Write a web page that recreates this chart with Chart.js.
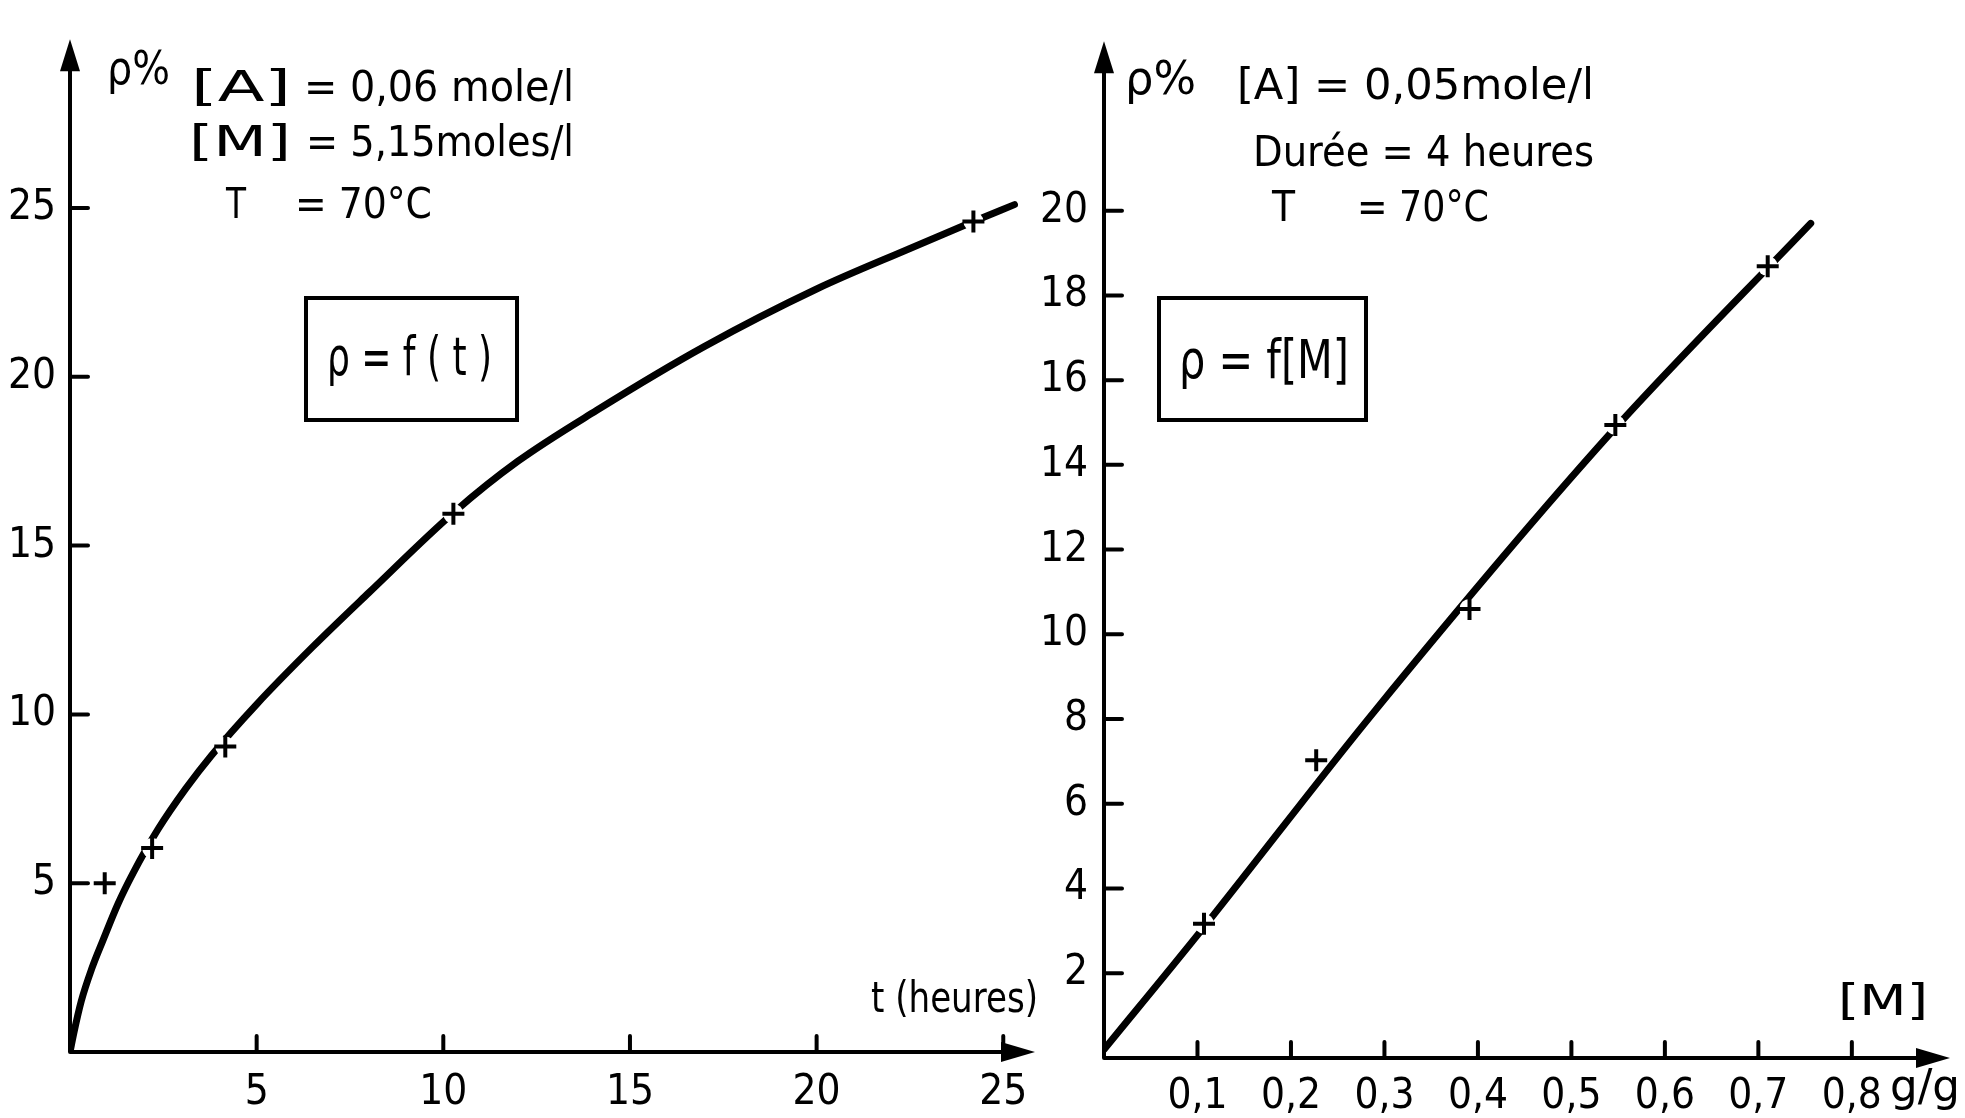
<!DOCTYPE html>
<html>
<head>
<meta charset="utf-8">
<script src="https://cdn.jsdelivr.net/npm/chart.js@4.4.0/dist/chart.umd.min.js"></script>
<style>
  html, body { margin: 0; padding: 0; background: #fff; }
  .panel { position: absolute; top: 0; height: 1118px; }
  #left { left: 0; width: 1050px; }
  #right { left: 1040px; width: 925px; }
</style>
</head>
<body>
<div class="panel" id="left"><canvas id="chartTime"></canvas></div>
<div class="panel" id="right"><canvas id="chartMono"></canvas></div>
<script>
// left graph : rho = f(t)
const timeHours = [0.93, 2.2, 4.16, 10.27, 24.2];
const rhoTime = [5.0, 6.04, 9.05, 15.94, 24.6];
const curveT = [0, 0.1, 0.3, 0.58, 0.88, 1.29, 1.69, 2.36, 3.1, 3.8, 5.0, 6.5, 8.0, 10.3, 12.0, 14.1, 17, 20, 22.5, 24.2, 25.3];
const curveRho = [0, 0.55, 1.5, 2.46, 3.3, 4.4, 5.3, 6.6, 7.8, 8.8, 10.3, 12.0, 13.6, 16.0, 17.5, 19.0, 20.9, 22.6, 23.8, 24.6, 25.1];
const timeTicks = [5, 10, 15, 20, 25];
const rhoTimeTicks = [5, 10, 15, 20, 25];

// right graph : rho = f[M]
const monomer = [0.107, 0.227, 0.391, 0.547, 0.710];
const rhoMonomer = [3.17, 7.03, 10.6, 14.94, 18.69];
const lineM = [0, 0.1, 0.29, 0.54, 0.756];
const lineRho = [0.2, 2.9, 8.2, 14.7, 19.7];
const monomerTicks = [0.1, 0.2, 0.3, 0.4, 0.5, 0.6, 0.7, 0.8];
const rhoMonomerTicks = [2, 4, 6, 8, 10, 12, 14, 16, 18, 20];

const FONT = "'Liberation Sans Narrow', 'DejaVu Sans Condensed', 'Liberation Sans', sans-serif";
const INK = '#000';

const toPoints = (xs, ys) => xs.map((x, i) => ({ x: x, y: ys[i] }));

const drawFitted = (ctx, text, x1, x2, cy, size) => {
  ctx.font = `${size}px ${FONT}`;
  ctx.textBaseline = 'middle';
  ctx.textAlign = 'left';
  const w = ctx.measureText(text).width;
  ctx.save();
  ctx.translate(x1, cy);
  ctx.scale((x2 - x1) / w, 1);
  ctx.fillText(text, 0, 0);
  ctx.restore();
};

// hand drawn look : axes with arrows, ticks pointing inside, notes and framed formula
const sketchAxes = {
  id: 'sketchAxes',
  afterDraw(chart, args, opts) {
    const ctx = chart.ctx;
    const area = chart.chartArea;
    const xs = chart.scales.x;
    const ys = chart.scales.y;
    const ox = opts.offsetX;
    const x0 = xs.getPixelForValue(0);
    const y0 = ys.getPixelForValue(0);
    ctx.save();
    ctx.strokeStyle = INK;
    ctx.fillStyle = INK;
    ctx.lineCap = 'round';
    ctx.lineWidth = 4;
    ctx.beginPath();
    ctx.moveTo(x0, y0);
    ctx.lineTo(x0, area.top + 20);
    ctx.moveTo(x0, y0);
    ctx.lineTo(area.right - 20, y0);
    ctx.stroke();
    // arrow heads
    ctx.beginPath();
    ctx.moveTo(x0, area.top);
    ctx.lineTo(x0 - 10, area.top + 32);
    ctx.lineTo(x0 + 10, area.top + 32);
    ctx.closePath();
    ctx.fill();
    ctx.beginPath();
    ctx.moveTo(area.right, y0);
    ctx.lineTo(area.right - 34, y0 - 10);
    ctx.lineTo(area.right - 34, y0 + 10);
    ctx.closePath();
    ctx.fill();
    // ticks
    ctx.beginPath();
    for (let t of ys.ticks) {
      const py = ys.getPixelForValue(t.value);
      ctx.moveTo(x0, py);
      ctx.lineTo(x0 + 18, py);
    }
    for (let t of xs.ticks) {
      const px = xs.getPixelForValue(t.value);
      ctx.moveTo(px, y0);
      ctx.lineTo(px, y0 - 16);
    }
    ctx.stroke();
    // texts
    for (let n of opts.notes) {
      drawFitted(ctx, n.text, n.x1 - ox, n.x2 - ox, n.y, n.size);
    }
    // framed formula
    const b = opts.box;
    ctx.lineWidth = 4;
    ctx.strokeRect(b.left - ox, b.top, b.right - b.left, b.bottom - b.top);
    drawFitted(ctx, b.text, b.tx1 - ox, b.tx2 - ox, b.ty, b.size);
    ctx.restore();
  }
};

const tickFont = { family: FONT, size: 42 };

const makeScale = (min, max, ticks, fit, padding, fmt) => ({
  type: 'linear',
  min: min,
  max: max,
  afterBuildTicks: s => { s.ticks = ticks.map(v => ({ value: v })); },
  afterFit: fit,
  grid: { display: false, drawTicks: false },
  border: { display: false },
  ticks: {
    padding: padding,
    color: INK,
    font: tickFont,
    maxRotation: 0,
    autoSkip: false,
    callback: fmt
  }
});

const makeDatasets = (lineXs, lineYs, markXs, markYs) => [
  {
    label: 'mesures',
    data: toPoints(markXs, markYs),
    showLine: false,
    pointStyle: 'cross',
    pointRadius: 11,
    pointBorderWidth: 4,
    pointBorderColor: INK,
    pointHoverRadius: 11
  },
  {
    label: 'coupure',
    data: toPoints(markXs, markYs),
    showLine: false,
    pointStyle: 'circle',
    pointRadius: 10,
    pointBorderWidth: 0,
    pointBackgroundColor: '#fff'
  },
  {
    label: 'courbe',
    data: toPoints(lineXs, lineYs),
    showLine: true,
    borderColor: INK,
    borderWidth: 7,
    borderCapStyle: 'round',
    cubicInterpolationMode: 'monotone',
    pointRadius: 0
  }
];

new Chart(document.getElementById('chartTime'), {
  type: 'scatter',
  data: { datasets: makeDatasets(curveT, curveRho, timeHours, rhoTime) },
  options: {
    responsive: true,
    maintainAspectRatio: false,
    animation: false,
    layout: { padding: { top: 12, right: 10, left: 0, bottom: 0 } },
    scales: {
      x: makeScale(0, 25.85, timeTicks, s => { s.height = 66; }, 16, v => v),
      y: makeScale(0, 30, rhoTimeTicks, s => { s.width = 70; }, 14, v => v)
    },
    plugins: {
      legend: { display: false },
      tooltip: { enabled: false },
      sketchAxes: {
        offsetX: 0,
        notes: [
          { text: 'ρ%', x1: 107, x2: 170, y: 72, size: 46 },
          { text: '[A]', x1: 191, x2: 291, y: 90, size: 42 },
          { text: '= 0,06 mole/l', x1: 304, x2: 574, y: 90, size: 42 },
          { text: '[M]', x1: 189, x2: 291, y: 145, size: 42 },
          { text: '= 5,15moles/l', x1: 306, x2: 574, y: 145, size: 42 },
          { text: 'T', x1: 226, x2: 246, y: 207, size: 42 },
          { text: '= 70°C', x1: 295, x2: 432, y: 207, size: 42 },
          { text: 't (heures)', x1: 871, x2: 1038, y: 1001, size: 42 }
        ],
        box: { left: 306, right: 517, top: 298, bottom: 420,
               text: 'ρ = f ( t )', tx1: 327, tx2: 492, ty: 361, size: 54 }
      }
    }
  },
  plugins: [sketchAxes]
});

new Chart(document.getElementById('chartMono'), {
  type: 'scatter',
  data: { datasets: makeDatasets(lineM, lineRho, monomer, rhoMonomer) },
  options: {
    responsive: true,
    maintainAspectRatio: false,
    animation: false,
    layout: { padding: { top: 15, right: 9, left: 0, bottom: 0 } },
    scales: {
      x: makeScale(0, 0.905, monomerTicks, s => { s.height = 60; }, 14, v => v.toFixed(1).replace('.', ',')),
      y: makeScale(0, 24, rhoMonomerTicks, s => { s.width = 64; }, 16, v => v)
    },
    plugins: {
      legend: { display: false },
      tooltip: { enabled: false },
      sketchAxes: {
        offsetX: 1040,
        notes: [
          { text: 'ρ%', x1: 1125, x2: 1196, y: 82, size: 46 },
          { text: '[A] = 0,05mole/l', x1: 1237, x2: 1594, y: 88, size: 42 },
          { text: 'Durée = 4 heures', x1: 1253, x2: 1594, y: 155, size: 42 },
          { text: 'T', x1: 1272, x2: 1295, y: 210, size: 42 },
          { text: '= 70°C', x1: 1357, x2: 1489, y: 210, size: 42 },
          { text: '[M]', x1: 1838, x2: 1928, y: 1004, size: 42 },
          { text: 'g/g', x1: 1890, x2: 1960, y: 1090, size: 44 }
        ],
        box: { left: 1159, right: 1366, top: 298, bottom: 420,
               text: 'ρ = f[M]', tx1: 1179, tx2: 1349, ty: 364, size: 54 }
      }
    }
  },
  plugins: [sketchAxes]
});
</script>
</body>
</html>
